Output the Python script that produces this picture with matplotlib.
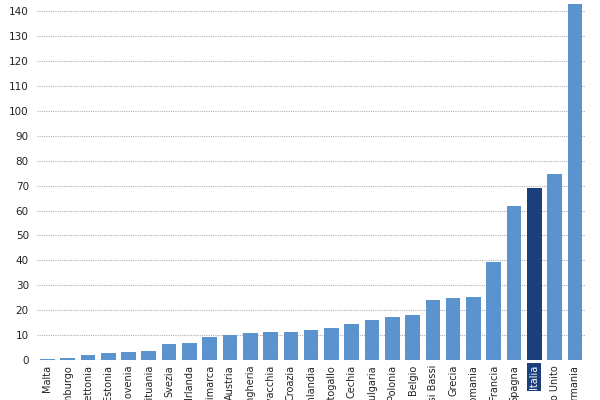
import matplotlib.pyplot as plt
import numpy as np

paesi = ["Malta", "Lussemburgo", "Lettonia", "Estonia", "Slovenia", "Lituania",
         "Svezia", "Irlanda", "Danimarca", "Austria", "Ungheria", "Slovacchia",
         "Croazia", "Finlandia", "Portogallo", "Cechia", "Bulgaria", "Polonia",
         "Belgio", "Paesi Bassi", "Grecia", "Romania", "Francia", "Spagna",
         "Italia", "Regno Unito", "Germania"]
valori = [0.5, 1.0, 2.0, 2.8, 3.3, 3.8, 6.4, 6.7, 9.1, 10.0, 10.8, 11.1,
          11.4, 12.1, 12.8, 14.6, 15.9, 17.1, 18.1, 24.2, 25.0, 25.4, 39.5,
          62.0, 69.2, 74.8, 143.0]

blu = "#5b93cf"
blu_scuro = "#1a3f7a"
colori = [blu_scuro if p == "Italia" else blu for p in paesi]

fig = plt.figure(figsize=(6, 4), dpi=100)
ax = fig.add_axes([0.062, 0.1, 0.913, 0.9])
x = np.arange(len(paesi))
ax.bar(x, valori, width=0.72, color=colori, zorder=3)

ax.set_ylim(0, 144.5)
ax.set_xlim(-0.5, len(paesi) - 0.5)
ax.set_yticks(range(0, 141, 10))
ax.tick_params(axis="y", length=0, labelsize=7.5, colors="#222222", pad=6)
ax.set_xticks([])
ax.grid(axis="y", color="#b0b0b0", linestyle=(0, (1, 1)), linewidth=0.8, zorder=0)
for s in ax.spines.values():
    s.set_visible(False)
ax.axhline(0, color="#999999", linestyle=(0, (1, 1)), linewidth=0.8, zorder=4)

# etichette ruotate, tagliate in basso come nell'originale
for xi, p in zip(x, paesi):
    if p == "Italia":
        ax.text(xi, -2, p, rotation=90, ha="center", va="top", fontsize=7,
                color="white", clip_on=False,
                bbox=dict(facecolor=blu_scuro, edgecolor="none", pad=1.5))
    else:
        ax.text(xi, -2, p, rotation=90, ha="center", va="top", fontsize=7,
                color="#222222", clip_on=False)

fig.savefig("out.png")
